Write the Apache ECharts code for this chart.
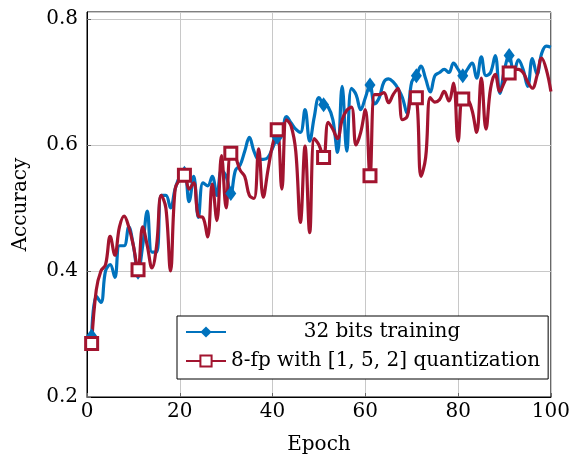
<!DOCTYPE html>
<html>
<head>
<meta charset="utf-8">
<script src="https://cdn.jsdelivr.net/npm/echarts@6/dist/echarts.min.js"></script>
<style>
  html, body { margin: 0; padding: 0; background: #fff; }
  #chart { width: 573px; height: 460px; }
</style>
</head>
<body>
<div id="chart"></div>
<script>
const epochs = Array.from({ length: 100 }, (_, i) => i + 1);

const fullPrecision = [
  0.297, 0.36, 0.35, 0.40, 0.41, 0.39, 0.44, 0.44, 0.47, 0.44,
  0.398, 0.44, 0.495, 0.43, 0.43, 0.52, 0.52, 0.50, 0.53, 0.55,
  0.555, 0.51, 0.55, 0.485, 0.54, 0.535, 0.55, 0.52, 0.56, 0.55,
  0.523, 0.56, 0.568, 0.59, 0.612, 0.59, 0.577, 0.577, 0.58, 0.595,
  0.612, 0.62, 0.645, 0.635, 0.625, 0.62, 0.656, 0.606, 0.645, 0.675,
  0.664, 0.66, 0.64, 0.588, 0.693, 0.59, 0.69, 0.68, 0.656, 0.675,
  0.695, 0.665, 0.675, 0.70, 0.705, 0.70, 0.69, 0.675, 0.65, 0.70,
  0.71, 0.725, 0.705, 0.684, 0.71, 0.715, 0.72, 0.715, 0.73, 0.72,
  0.71, 0.72, 0.73, 0.706, 0.74, 0.71, 0.715, 0.742, 0.682, 0.72,
  0.742, 0.715, 0.735, 0.72, 0.693, 0.737, 0.712, 0.745, 0.757, 0.755
];

const fp8 = [
  0.285, 0.37, 0.40, 0.41, 0.455, 0.425, 0.47, 0.487, 0.47, 0.44,
  0.402, 0.47, 0.44, 0.405, 0.44, 0.52, 0.50, 0.40, 0.53, 0.545,
  0.552, 0.53, 0.54, 0.487, 0.485, 0.454, 0.538, 0.48, 0.583, 0.50,
  0.587, 0.58, 0.56, 0.55, 0.52, 0.515, 0.594, 0.517, 0.56, 0.60,
  0.624, 0.53, 0.64, 0.63, 0.59, 0.477, 0.598, 0.461, 0.61, 0.60,
  0.58, 0.636, 0.625, 0.61, 0.64, 0.655, 0.66, 0.60, 0.62, 0.656,
  0.551, 0.68, 0.68, 0.683, 0.667, 0.68, 0.69, 0.64, 0.645, 0.677,
  0.675, 0.55, 0.58, 0.675, 0.668, 0.672, 0.685, 0.67, 0.698, 0.606,
  0.673, 0.672, 0.655, 0.62, 0.706, 0.625, 0.69, 0.712, 0.685, 0.70,
  0.714, 0.72, 0.72, 0.715, 0.70, 0.69, 0.71, 0.738, 0.72, 0.685
];

const seriesNames = ['32 bits training', '8-fp with [1, 5, 2] quantization'];
const xTicks = [0, 20, 40, 60, 80, 100];
const yTicks = [0.2, 0.4, 0.6, 0.8];
const markEvery = 10;

const blue = '#0072BD';
const red = '#A2142F';
const font = '"DejaVu Serif", "Liberation Serif", serif';

// marker on every 10th epoch, plain line elsewhere
function toData(values) {
  return values.map((v, i) => {
    const item = { value: [epochs[i], v] };
    if (i % markEvery !== 0) item.symbol = 'none';
    return item;
  });
}

const chart = echarts.init(document.getElementById('chart'));

chart.setOption({
  animation: false,
  backgroundColor: '#fff',
  textStyle: { fontFamily: font },
  grid: {
    left: 87, right: 20, top: 12, bottom: 61,
    show: true, borderColor: '#000', borderWidth: 1
  },
  xAxis: {
    type: 'value',
    min: xTicks[0], max: xTicks[xTicks.length - 1], interval: 20,
    name: 'Epoch', nameLocation: 'middle', nameGap: 38,
    nameTextStyle: { fontFamily: font, fontSize: 20, color: '#000' },
    axisLine: { show: true, lineStyle: { color: '#000', width: 1 } },
    axisTick: { show: true, inside: true, length: 4, lineStyle: { color: '#666' } },
    axisLabel: { fontFamily: font, fontSize: 20, color: '#000', margin: 5 },
    splitLine: { show: true, lineStyle: { color: '#c8c8c8', width: 1 } }
  },
  yAxis: {
    type: 'value',
    min: yTicks[0], max: 0.811, interval: 0.2,
    name: 'Accuracy', nameLocation: 'middle', nameGap: 56,
    nameTextStyle: { fontFamily: font, fontSize: 20, color: '#000' },
    axisLine: { show: true, lineStyle: { color: '#000', width: 1 } },
    axisTick: { show: true, inside: true, length: 4, lineStyle: { color: '#666' } },
    axisLabel: {
      fontFamily: font, fontSize: 20, color: '#000', margin: 9,
      showMaxLabel: false,
      formatter: v => (yTicks.some(t => Math.abs(t - v) < 1e-6) ? v.toFixed(1) : '')
    },
    splitLine: { show: true, lineStyle: { color: '#c8c8c8', width: 1 } }
  },
  legend: {
    orient: 'vertical',
    left: 177, top: 316,
    padding: [6, 8, 8, 8],
    itemGap: 9,
    itemWidth: 40, itemHeight: 14,
    borderColor: '#000', borderWidth: 1,
    backgroundColor: '#fff',
    data: seriesNames,
    formatter: name => (name === seriesNames[0] ? '{c|' + name + '}' : '{l|' + name + '}'),
    textStyle: {
      fontFamily: font, fontSize: 20, color: '#000',
      rich: {
        c: { width: 302, align: 'center', fontFamily: font, fontSize: 20, lineHeight: 24 },
        l: { width: 302, align: 'left', fontFamily: font, fontSize: 20, lineHeight: 24 }
      }
    }
  },
  series: [
    {
      name: seriesNames[0],
      type: 'line',
      smooth: 0.4,
      data: toData(fullPrecision),
      symbol: 'diamond',
      symbolSize: [11, 15],
      showAllSymbol: true,
      color: blue,
      lineStyle: { color: blue, width: 3.2 },
      itemStyle: { color: blue }
    },
    {
      name: seriesNames[1],
      type: 'line',
      smooth: 0.4,
      data: toData(fp8),
      symbol: 'rect',
      symbolSize: 12,
      showAllSymbol: true,
      color: red,
      lineStyle: { color: red, width: 3.2 },
      itemStyle: { color: '#fff', borderColor: red, borderWidth: 3 }
    }
  ]
});
</script>
</body>
</html>
